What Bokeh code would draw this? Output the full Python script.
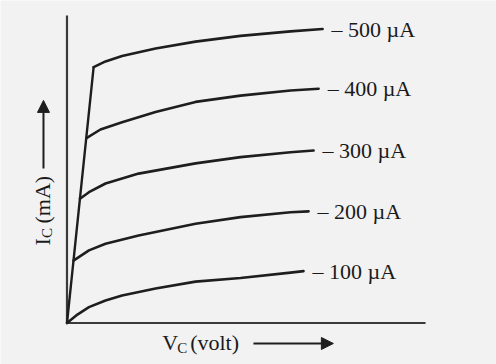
import numpy as np
from bokeh.plotting import figure
from bokeh.models import Range1d, Arrow, NormalHead
from bokeh.embed import file_html
from bokeh.resources import INLINE
from bokeh.core.properties import value

# ---- data (V_C in volts, I_C in mA, arbitrary scale) ----
curve_labels = ["– 100 µA", "– 200 µA", "– 300 µA", "– 400 µA", "– 500 µA"]

vc_100 = [0.00, 0.29, 0.61, 1.07, 1.53, 2.46, 3.57, 4.82, 6.21, 6.57]
ic_100 = [0.00, 0.28, 0.53, 0.75, 0.92, 1.15, 1.38, 1.50, 1.68, 1.73]

vc_200 = [0.18, 0.61, 1.07, 1.99, 3.57, 4.82, 6.21, 6.71]
ic_200 = [2.08, 2.42, 2.64, 2.92, 3.31, 3.53, 3.69, 3.72]

vc_300 = [0.36, 0.61, 1.07, 1.99, 3.57, 4.82, 6.21, 6.85]
ic_300 = [4.14, 4.36, 4.65, 4.98, 5.32, 5.53, 5.69, 5.75]

vc_400 = [0.54, 0.93, 1.53, 2.46, 3.57, 4.82, 6.21, 6.99]
ic_400 = [6.16, 6.45, 6.69, 7.03, 7.37, 7.58, 7.75, 7.81]

vc_500 = [0.74, 1.07, 1.53, 2.46, 3.57, 4.82, 6.21, 7.10]
ic_500 = [8.53, 8.72, 8.90, 9.15, 9.38, 9.57, 9.72, 9.80]

# saturation (ohmic) line through the knees
sat_vc = [0.00, 0.74]
sat_ic = [0.00, 8.53]

V_AXIS_END = 9.96
I_AXIS_END = 10.25

curves_vc = [vc_100, vc_200, vc_300, vc_400, vc_500]
curves_ic = [ic_100, ic_200, ic_300, ic_400, ic_500]

# ---- figure ----
BG = "#f2f2f2"
INK = "#1e1e1e"
TXT = "#1a1a1a"
FONT = value("Liberation Serif")

p = figure(width=496, height=364,
           x_range=Range1d(-1.847, 11.931), y_range=Range1d(-1.383, 10.75),
           x_axis_location=None, y_axis_location=None,
           toolbar_location=None, output_backend="svg", min_border=0)
p.grid.visible = False
p.outline_line_color = None
p.background_fill_color = BG
p.border_fill_color = BG

# axes
p.line([0, 0], [0, I_AXIS_END], line_color="#3a3a3a", line_width=2.2)
p.line([0, V_AXIS_END], [0, 0], line_color="#3a3a3a", line_width=2.2)

# characteristic curves
p.line(sat_vc, sat_ic, line_color=INK, line_width=2.4, line_cap="round")
for vc, ic in zip(curves_vc, curves_ic):
    p.line(vc, ic, line_color=INK, line_width=2.6, line_join="round", line_cap="round")

# curve labels
p.text(x=[c[-1] for c in curves_vc], y=[c[-1] for c in curves_ic], text=curve_labels,
       x_offset=9, text_baseline="middle", text_align="left",
       text_font=FONT, text_font_size="22px", text_color=TXT)

# y-axis label: I_C (mA), rotated
ylx, yly = -0.694, 2.583
p.text(x=[ylx], y=[yly], text=["I"], angle=np.pi / 2, text_align="left", text_baseline="middle",
       text_font=FONT, text_font_size="22px", text_color=TXT)
p.text(x=[ylx], y=[yly], text=["C"], angle=np.pi / 2, text_align="left", text_baseline="middle",
       x_offset=5, y_offset=-7.5, text_font=FONT, text_font_size="15px", text_color=TXT)
p.text(x=[ylx], y=[yly], text=["(mA)"], angle=np.pi / 2, text_align="left", text_baseline="middle",
       y_offset=-22, text_font=FONT, text_font_size="22px", text_color=TXT)

# x-axis label: V_C (volt)
xlx, xly = 2.644, -0.65
p.text(x=[xlx], y=[xly], text=["V"], text_align="left", text_baseline="alphabetic",
       text_font=FONT, text_font_size="22px", text_color=TXT)
p.text(x=[xlx], y=[xly], text=["C"], text_align="left", text_baseline="alphabetic",
       x_offset=15, y_offset=5, text_font=FONT, text_font_size="15px", text_color=TXT)
p.text(x=[xlx], y=[xly], text=["(volt)"], text_align="left", text_baseline="alphabetic",
       x_offset=28, text_font=FONT, text_font_size="22px", text_color=TXT)

# arrows beside axis labels
p.add_layout(Arrow(end=NormalHead(size=12, fill_color=INK, line_color=INK),
                   x_start=-0.653, y_start=5.15, x_end=-0.653, y_end=7.42,
                   line_color=INK, line_width=2))
p.add_layout(Arrow(end=NormalHead(size=12, fill_color=INK, line_color=INK),
                   x_start=5.18, y_start=-0.683, x_end=7.40, y_end=-0.683,
                   line_color=INK, line_width=2))

open("out.html", "w").write(file_html(p, INLINE))
